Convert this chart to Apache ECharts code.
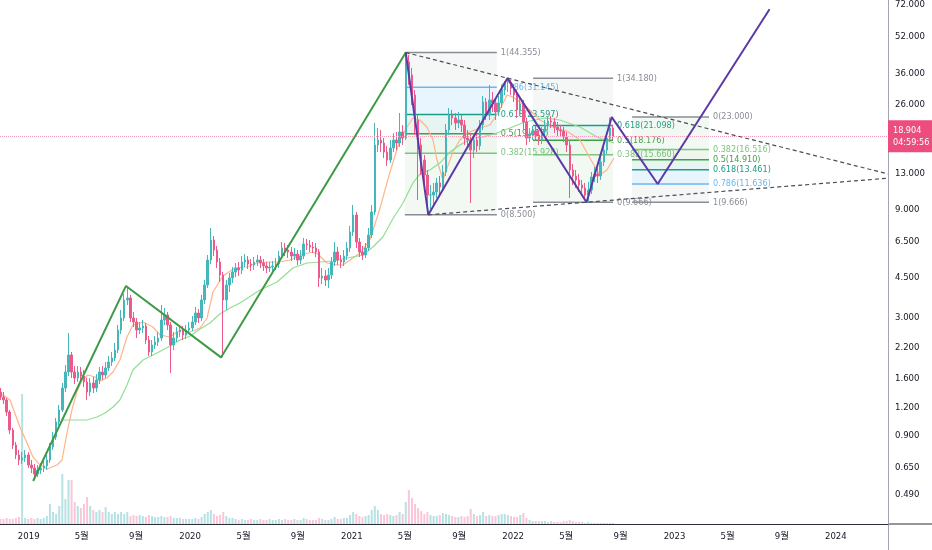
<!DOCTYPE html>
<html><head><meta charset="utf-8">
<script src="https://cdn.jsdelivr.net/npm/echarts@6/dist/echarts.min.js"></script>
<style>html,body{margin:0;padding:0;background:#fff}#c{width:932px;height:550px}</style>
</head><body><div id="c"></div>
<script>
// ---------- data (weekly bars) ----------
const startDate = '2018-10-29';
const firstOpen = 1.399;
const closes = [
1.330,1.290,1.141,0.950,0.815,0.737,0.700,0.714,0.737,0.665,
0.645,0.607,0.632,0.645,0.659,0.700,0.799,0.885,1.031,1.165,
1.457,1.715,2.040,1.715,1.613,1.715,1.646,1.549,1.399,1.533,
1.457,1.581,1.715,1.663,1.786,1.899,1.978,2.146,2.630,2.973,
3.570,3.644,2.973,2.853,2.630,2.684,2.739,2.376,2.103,2.258,
2.328,2.424,2.912,3.065,2.767,2.258,2.424,2.577,2.630,2.499,
2.630,2.684,2.853,3.128,2.973,3.570,4.160,5.365,6.577,5.940,
5.257,4.605,3.570,4.160,4.467,4.748,4.945,4.846,5.257,5.365,
5.151,5.099,5.257,5.365,5.204,5.047,4.945,4.996,5.047,5.151,
5.588,6.063,5.940,5.820,5.588,5.703,5.365,5.588,6.315,6.251,
6.125,6.063,5.820,4.467,4.559,4.377,4.605,5.257,5.820,5.365,
5.257,5.588,6.063,7.135,8.484,6.444,5.820,5.645,6.063,6.921,
8.747,17.31,18.21,17.66,16.11,14.85,16.79,18.21,17.66,19.75,
18.58,40.31,35.31,28.80,22.32,17.31,14.85,12.75,10.40,10.40,
10.72,11.76,11.29,13.15,20.16,23.49,22.79,21.65,22.32,21.21,
18.58,18.21,16.44,18.21,17.13,21.21,26.82,23.49,27.37,26.55,
24.22,26.55,30.30,32.87,32.87,30.93,28.80,24.72,26.28,21.87,
18.58,19.36,19.96,19.16,18.39,19.75,21.21,22.09,21.87,20.78,
20.16,19.96,18.77,17.31,13.42,12.62,12.12,11.52,11.17,10.40,
10.94,12.50,12.88,12.62,14.55,16.44,18.58,20.57,18.904];
const highs = [
1.457,1.399,1.316,1.165,0.970,0.841,0.775,0.759,0.775,0.759,
0.700,0.672,0.665,0.679,0.693,0.737,0.832,0.931,1.074,1.226,
1.533,1.842,2.551,2.103,1.823,1.823,1.805,1.750,1.613,1.613,
1.630,1.680,1.805,1.823,1.899,2.019,2.103,2.304,2.767,3.225,
3.795,4.076,3.757,3.160,2.973,2.853,2.912,2.824,2.474,2.376,
2.474,2.577,3.393,3.291,3.160,2.853,2.577,2.712,2.767,2.739,
2.767,2.853,3.034,3.324,3.257,3.757,4.377,5.645,7.432,6.850,
6.187,5.476,4.748,4.377,4.700,4.996,5.204,5.257,5.588,5.703,
5.588,5.420,5.531,5.645,5.588,5.420,5.257,5.257,5.311,5.476,
5.880,6.444,6.379,6.251,6.125,6.063,5.940,5.940,6.712,6.644,
6.577,6.444,6.379,6.000,4.945,4.846,4.945,5.531,6.444,6.125,
5.645,5.940,6.444,7.585,9.395,8.747,6.712,6.187,6.379,7.432,
9.395,21.65,20.57,20.16,18.58,17.13,18.21,19.55,19.75,23.98,
21.21,44.355,43.29,37.92,30.30,23.49,18.58,15.62,13.42,11.52,
11.76,12.37,12.62,14.11,21.43,25.23,24.72,23.98,24.22,23.49,
22.32,20.16,19.55,19.55,19.36,22.32,28.50,27.93,31.89,29.69,
27.93,28.50,31.89,33.20,34.18,33.55,32.21,30.30,27.93,27.37,
22.79,20.57,21.00,21.00,20.16,20.78,22.32,23.25,23.25,22.79,
21.87,21.21,20.78,19.75,18.21,14.26,13.42,12.88,12.12,11.76,
11.88,13.15,13.83,13.69,15.31,17.31,19.75,22.90,21.21];
const lows = [
1.290,1.239,1.096,0.912,0.783,0.707,0.665,0.672,0.686,0.645,
0.613,0.577,0.589,0.607,0.619,0.632,0.679,0.775,0.858,1.000,
1.141,1.399,1.646,1.613,1.518,1.549,1.533,1.472,1.290,1.343,
1.385,1.399,1.518,1.581,1.613,1.732,1.823,1.918,2.081,2.525,
2.883,3.393,2.853,2.712,2.424,2.525,2.551,2.281,2.019,2.019,
2.168,2.235,2.352,2.767,2.630,1.697,2.146,2.328,2.449,2.376,
2.400,2.525,2.603,2.767,2.824,2.883,3.428,4.035,5.151,5.588,
4.945,4.289,1.998,3.225,3.873,4.245,4.513,4.559,4.653,4.996,
4.895,4.797,4.846,5.047,4.945,4.797,4.700,4.748,4.797,4.846,
4.945,5.420,5.588,5.476,5.311,5.365,5.099,5.151,5.420,5.940,
5.820,5.761,5.531,4.076,4.202,4.118,4.035,4.422,5.047,5.099,
4.945,5.047,5.365,5.820,6.850,6.063,5.531,5.365,5.476,5.880,
6.712,8.484,16.11,16.11,15.15,13.97,14.40,16.11,16.44,16.96,
17.31,18.21,31.89,26.01,19.16,9.885,12.75,10.94,8.500,8.927,
9.395,10.08,10.40,10.72,12.62,19.16,21.21,20.16,20.57,19.75,
17.31,16.79,9.588,15.15,16.11,16.44,20.16,22.32,22.32,24.22,
22.32,23.25,25.23,28.80,29.69,28.80,26.82,22.79,23.25,20.16,
17.31,17.84,18.21,18.03,17.31,17.48,18.96,20.16,20.57,19.55,
18.96,18.77,17.84,16.11,10.08,11.52,11.17,10.72,10.40,9.885,
9.666,10.50,11.88,11.76,12.12,13.97,15.78,17.84,18.21];
const volumes = [
5,5,6,5,5,6,7,130,6,5,
6,5,6,5,6,8,20,12,10,18,
50,25,44,44,22,18,16,20,27,18,
14,12,14,12,17,12,10,12,10,12,
10,12,8,9,8,9,8,7,9,8,
7,7,8,7,7,8,6,6,6,5,
5,5,5,6,5,7,10,12,14,10,
8,9,12,8,6,6,5,4,5,4,
4,5,4,4,5,4,4,5,4,4,
5,4,5,4,4,5,4,4,6,5,
4,4,4,6,5,4,4,5,7,5,
5,6,6,9,12,10,8,7,8,9,
14,18,14,10,9,10,9,8,9,12,
10,22,34,26,20,16,13,10,12,9,
8,8,9,11,10,9,8,7,7,8,
7,8,15,10,8,9,12,8,9,8,
8,9,10,10,9,8,7,7,9,11,
6,4,3,3,3,3,3,2,3,2,
2,2,3,3,4,3,2,2,2,1,
2,1,1,1,1,1,1,1,1];
// moving averages: [week index, price]
const maFast = [[0,1.385],[3.1,1.290],[6.3,0.980],[8.6,0.832],[10.5,0.722],[12.8,0.665],[15.1,0.639],[18.3,0.665],[19.9,0.700],[21.5,0.921],[23.1,1.165],[24.7,1.399],[26.4,1.581],[28.3,1.663],[30.6,1.630],[32.2,1.565],[34.4,1.613],[36.4,1.715],[38.6,1.938],[40.9,2.449],[42.8,2.767],[46.1,2.853],[49.3,2.712],[51.6,2.499],[54.8,2.449],[58.0,2.630],[61.3,2.577],[64.5,2.684],[66.8,2.973],[68.7,3.873],[71.9,4.559],[75.8,4.945],[79.7,4.996],[82.9,5.204],[86.1,5.257],[90.3,5.257],[93.6,5.365],[96.8,5.645],[101.0,5.820],[102.6,5.703],[105.5,5.204],[108.8,5.099],[110.7,5.099],[113.0,5.365],[116.2,5.761],[119.4,6.577],[122.7,9.112],[125.9,13.15],[129.1,18.21],[131.4,20.78],[133.3,22.79],[135.6,22.32],[137.8,20.78],[139.8,18.21],[141.1,14.85],[143.0,12.12],[146.2,16.11],[148.5,18.21],[150.8,19.55],[155.0,20.57],[158.2,21.21],[161.4,24.72],[163.7,28.80],[165.6,28.22],[170.1,25.49],[174.4,22.32],[178.5,20.78],[183.1,19.96],[187.3,18.21],[190.5,15.15],[193.7,12.75],[196.0,13.42],[198.3,15.15]];
const maSlow = [[20.2,1.052],[24.7,1.052],[28.0,1.052],[31.2,1.085],[33.8,1.130],[36.4,1.201],[38.6,1.290],[40.9,1.503],[42.8,1.750],[46.1,1.938],[50.6,2.081],[54.8,2.235],[58.0,2.376],[61.3,2.474],[64.5,2.657],[67.7,2.824],[70.9,3.096],[74.2,3.291],[77.4,3.463],[83.9,3.953],[89.4,4.289],[94.5,4.945],[99.1,5.204],[103.3,5.257],[107.5,5.311],[112.0,5.476],[117.2,5.645],[120.4,6.125],[123.6,6.781],[126.8,8.145],[130.1,9.588],[133.3,11.76],[135.6,12.88],[138.8,13.42],[142.0,14.40],[145.3,16.11],[148.5,17.31],[152.7,18.58],[155.9,18.77],[160.5,19.55],[164.7,20.57],[169.5,21.87],[176.0,22.79],[180.8,22.32],[187.3,20.78],[192.8,18.77],[198.3,17.66]];
// drawings
const greenWave = [['2019-01-11',0.565],['2019-08-09',4.12],['2020-03-11',1.99],['2021-05-03',44.355]];
const purpleWave = [['2021-05-03',44.355],['2021-06-23',8.5],['2021-12-19',34.18],['2022-06-16',9.666],['2022-08-12',23.0],['2022-11-24',11.636],['2023-08-04',69.0]];
const upperTrend = [['2021-05-03',44.355],['2024-04-28',12.89]];
const lowerTrend = [['2021-06-23',8.5],['2024-04-28',12.34]];
const fibARange = ['2021-05-01','2021-11-25'];
const fibALevels = [[1,44.355],[0.786,31.145],[0.618,23.597],[0.5,19.417],[0.382,15.928],[0,8.5]];
const fibBRange = ['2022-02-15','2022-08-15'];
const fibBLevels = [[1,34.18],[0.618,21.098],[0.5,18.176],[0.382,15.66],[0,9.666]];
const fibCRange = ['2022-09-27','2023-03-20'];
const fibCLevels = [[0,23.0],[0.382,16.516],[0.5,14.91],[0.618,13.461],[0.786,11.636],[1,9.666]];
// axes
const xTickDates = ['2019-01-01','2019-05-01','2019-09-01','2020-01-01','2020-05-01','2020-09-01','2021-01-01','2021-05-01','2021-09-01','2022-01-01','2022-05-01','2022-09-01','2023-01-01','2023-05-01','2023-09-01','2024-01-01'];
const yTicks = [72,52,36,26,13,9,6.5,4.5,3,2.2,1.6,1.2,0.9,0.65,0.49];
const xRange = ['2018-10-28','2024-04-28'];
const yRange = [0.3648, 75.76];
const lastPrice = 18.904;
const countdown = '04:59:56';

// ---------- build ----------
const DAY = 86400000;
const ts = s => Date.parse(s + 'T00:00:00Z');
const t0 = ts(startDate);
const wk = i => t0 + i * 7 * DAY;
const L = Math.log;
const FONT = "'Liberation Sans Narrow','DejaVu Sans Condensed','Noto Sans CJK KR',sans-serif";
const UP = '#45b7ba', DOWN = '#ec5a8b';

const candleData = closes.map((c, i) => {
  const o = i ? closes[i - 1] : firstOpen;
  return [wk(i), L(o), L(c), L(lows[i]), L(highs[i])];
});
const volData = volumes.map((v, i) => {
  const o = i ? closes[i - 1] : firstOpen;
  return {value: [wk(i), v], itemStyle: {color: closes[i] >= o ? 'rgba(63,179,182,0.38)' : 'rgba(236,82,134,0.32)'}};
});
const pts = arr => arr.map(p => [ts(p[0]), L(p[1])]);
const maPts = arr => arr.map(p => [wk(p[0]), L(p[1])]);

const lvColor = {0:'#8a8d96', 1:'#8a8d96', 0.382:'#7cc47f', 0.5:'#43a047', 0.618:'#1c9e86', 0.786:'#6bb6f0'};
const lvFill = {0:'rgba(120,123,134,0.07)', 1:'rgba(120,123,134,0.07)', 0.382:'rgba(129,199,132,0.10)', 0.5:'rgba(76,175,80,0.10)', 0.618:'rgba(8,153,129,0.10)', 0.786:'rgba(100,181,246,0.14)'};

function fibSeries(range, levels) {
  return {
    type: 'custom', silent: true, z: 1, clip: false,
    data: [[ts(range[0]), L(levels[0][1])]],
    encode: {x: 0, y: 1},
    renderItem: (params, api) => {
      const xa = ts(range[0]), xb = ts(range[1]);
      const lv = levels.slice().sort((a, b) => a[0] - b[0]);
      const ch = [];
      for (let k = 0; k < lv.length - 1; k++) {
        const p = api.coord([xa, L(lv[k][1])]), q = api.coord([xb, L(lv[k + 1][1])]);
        ch.push({type: 'rect', shape: {x: p[0], y: Math.min(p[1], q[1]), width: q[0] - p[0], height: Math.abs(q[1] - p[1])}, style: {fill: lvFill[lv[k + 1][0]]}});
      }
      lv.forEach(([lev, price]) => {
        const p = api.coord([xa, L(price)]), q = api.coord([xb, L(price)]);
        ch.push({type: 'line', shape: {x1: p[0], y1: p[1], x2: q[0], y2: q[1]}, style: {stroke: lvColor[lev], lineWidth: 1.5}});
        ch.push({type: 'text', x: q[0] + 4, y: q[1], style: {text: lev + '(' + price.toFixed(3) + ')', fill: lvColor[lev], font: '9px ' + FONT, verticalAlign: 'middle', align: 'left'}});
      });
      return {type: 'group', children: ch};
    }
  };
}
function lineSeries(data, color, width, dash, z) {
  return {type: 'line', data: data, symbol: 'none', silent: true, z: z, clip: false,
    lineStyle: {color: color, width: width, type: dash || 'solid'}};
}

const chart = echarts.init(document.getElementById('c'), null, {renderer: 'canvas'});
chart.setOption({
  animation: false,
  backgroundColor: '#ffffff',
  grid: {left: 0, right: 44, top: 0, bottom: 26},
  graphic: [
    {type: 'line', shape: {x1: 888, y1: 524, x2: 932, y2: 524}, style: {stroke: '#2a2e39', lineWidth: 1}, silent: true},
    {type: 'line', shape: {x1: 888.5, y1: 524, x2: 888.5, y2: 550}, style: {stroke: '#a3a6af', lineWidth: 1}, silent: true}
  ],
  xAxis: {
    type: 'value', min: ts(xRange[0]), max: ts(xRange[1]),
    axisLine: {show: true, onZero: false, lineStyle: {color: '#2a2e39', width: 1}},
    axisTick: {show: false}, splitLine: {show: false},
    axisLabel: {
      customValues: xTickDates.map(ts), color: '#131722', fontSize: 9.5, fontFamily: FONT, margin: 8, hideOverlap: false,
      formatter: v => { const d = new Date(v); const m = d.getUTCMonth(); return m === 0 ? String(d.getUTCFullYear()) : (m + 1) + '월'; }
    }
  },
  yAxis: [{
    type: 'value', position: 'right', min: L(yRange[0]), max: L(yRange[1]),
    axisLine: {show: true, onZero: false, lineStyle: {color: '#a3a6af', width: 1}},
    axisTick: {show: false}, splitLine: {show: false},
    axisLabel: {customValues: yTicks.map(L), color: '#131722', fontSize: 9.5, fontFamily: FONT, margin: 7,
      formatter: v => Math.exp(v).toFixed(3)}
  }, {
    type: 'value', show: false, min: 0, max: 524
  }],
  series: [
    {type: 'bar', yAxisIndex: 1, data: volData, barWidth: 2, silent: true, z: 0},
    fibSeries(fibARange, fibALevels),
    fibSeries(fibBRange, fibBLevels),
    fibSeries(fibCRange, fibCLevels),
    lineSeries(maPts(maFast), '#ffb48a', 1.2, null, 2),
    lineSeries(maPts(maSlow), '#93de93', 1.2, null, 2),
    {
      type: 'candlestick', data: candleData, encode: {x: 0, y: [1, 2, 3, 4]}, barWidth: 2, z: 3, silent: true,
      itemStyle: {color: UP, color0: DOWN, borderColor: UP, borderColor0: DOWN, borderWidth: 1},
      markLine: {
        silent: true, symbol: ['none', 'none'], animation: false,
        lineStyle: {color: '#f5a0bb', type: 'dotted', width: 1},
        label: {show: true, position: 'end', distance: 0, formatter: lastPrice.toFixed(3) + '\n' + countdown,
          backgroundColor: '#ec4c7e', color: '#ffffff', padding: [4, 3, 4, 5], fontSize: 9, lineHeight: 12, fontFamily: FONT, align: 'left'},
        data: [{yAxis: L(lastPrice)}]
      }
    },
    lineSeries(pts(greenWave), '#3d9a48', 2, null, 5),
    lineSeries(pts(purpleWave), '#5c3aa6', 2, null, 5),
    lineSeries(pts(upperTrend), '#4a4d57', 1.2, [4, 3], 5),
    lineSeries(pts(lowerTrend), '#4a4d57', 1.2, [4, 3], 5)
  ]
});
</script>
</body></html>
